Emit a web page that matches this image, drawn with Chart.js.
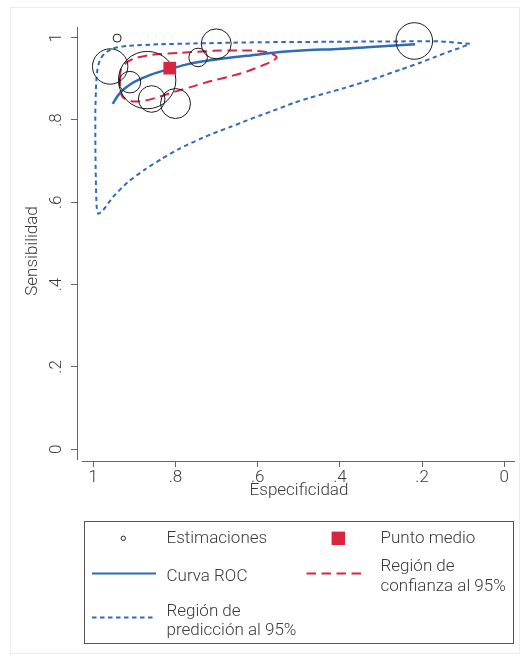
<!DOCTYPE html>
<html>
<head>
<meta charset="utf-8">
<script src="https://cdn.jsdelivr.net/npm/chart.js@4.4.1/dist/chart.umd.min.js"></script>
<style>
  html, body { margin: 0; padding: 0; background: #fff; }
  #wrap { position: relative; width: 528px; height: 661px; }
  canvas { display: block; }
</style>
</head>
<body>
<div id="wrap"><canvas id="sroc" width="528" height="661"></canvas></div>
<script>
// Individual study estimates (specificity, sensitivity) and their relative weights
const studySpec   = [0.942, 0.959, 0.911, 0.869, 0.858, 0.800, 0.745, 0.701, 0.219];
const studySens   = [0.999, 0.930, 0.892, 0.897, 0.851, 0.840, 0.952, 0.985, 0.992];
const studyWeight = [16, 313, 117, 824, 177, 225, 86, 225, 335];

// Summary operating point
const summarySpec = [0.814];
const summarySens = [0.926];

// Summary ROC curve
const rocSpec = [0.953, 0.939, 0.923, 0.899, 0.858, 0.814, 0.777, 0.736, 0.680, 0.627, 0.546, 0.473, 0.416, 0.335, 0.217];
const rocSens = [0.839, 0.861, 0.877, 0.893, 0.911, 0.924, 0.934, 0.942, 0.950, 0.956, 0.965, 0.970, 0.972, 0.977, 0.984];

// 95% confidence region around the summary point
const confSpec = [0.935, 0.933, 0.920, 0.901, 0.862, 0.789, 0.709, 0.643, 0.602, 0.575, 0.560, 0.554, 0.565, 0.590, 0.626, 0.667, 0.709, 0.753, 0.801, 0.838, 0.874, 0.899, 0.918, 0.930, 0.935, 0.935];
const confSens = [0.902, 0.922, 0.939, 0.949, 0.958, 0.963, 0.968, 0.969, 0.968, 0.964, 0.958, 0.952, 0.943, 0.932, 0.918, 0.906, 0.896, 0.883, 0.869, 0.857, 0.847, 0.845, 0.849, 0.858, 0.873, 0.902];

// 95% prediction region
const predSpec = [0.084, 0.157, 0.254, 0.431, 0.594, 0.757, 0.838, 0.918, 0.952, 0.972, 0.984, 0.990, 0.993, 0.995, 0.995, 0.994, 0.992, 0.988, 0.976, 0.952, 0.916, 0.874, 0.833, 0.789, 0.740, 0.709, 0.667, 0.626, 0.594, 0.553, 0.514, 0.473, 0.431, 0.388, 0.346, 0.302, 0.254, 0.205, 0.169, 0.132, 0.103, 0.084];
const predSens = [0.985, 0.991, 0.991, 0.990, 0.989, 0.986, 0.984, 0.980, 0.974, 0.962, 0.946, 0.922, 0.890, 0.824, 0.744, 0.662, 0.591, 0.572, 0.581, 0.613, 0.649, 0.680, 0.706, 0.731, 0.754, 0.767, 0.783, 0.799, 0.811, 0.826, 0.841, 0.854, 0.866, 0.878, 0.891, 0.905, 0.922, 0.939, 0.953, 0.967, 0.977, 0.985];

// Axis ticks
const xTickValues = [1, 0.8, 0.6, 0.4, 0.2, 0];
const xTickLabels = ['1', '.8', '.6', '.4', '.2', '0'];
const yTickValues = [0, 0.2, 0.4, 0.6, 0.8, 1];
const yTickLabels = ['0', '.2', '.4', '.6', '.8', '1'];

const BLUE = '#2f6cb3';
const RED = '#d7263f';
const INK = '#3a3a3a';
const AXIS = '#666666';
const FONT = "Roboto, 'Liberation Sans', Arial, sans-serif";
const FONT_SIZE = 17;
const FONT_WEIGHT = '300';
const fontCss = FONT_WEIGHT + ' ' + FONT_SIZE + 'px ' + FONT;

const pairs = (xs, ys) => xs.map((x, i) => ({ x: x, y: ys[i] }));

// Axis lines, rotated y labels, axis titles and the boxed legend
const decorations = {
  id: 'decorations',
  beforeDraw(chart) {
    const ctx = chart.ctx;
    ctx.save();
    ctx.fillStyle = '#ffffff';
    ctx.fillRect(0, 0, chart.width, chart.height);
    ctx.strokeStyle = '#ececec';
    ctx.lineWidth = 1;
    ctx.strokeRect(10.5, 7.5, 509, 646);
    ctx.restore();
  },
  afterDraw(chart) {
    const ctx = chart.ctx;
    const area = chart.chartArea;
    const ys = chart.scales.y;
    ctx.save();

    // axis lines
    ctx.strokeStyle = AXIS;
    ctx.lineWidth = 1;
    ctx.beginPath();
    ctx.moveTo(area.left + 0.5, area.top);
    ctx.lineTo(area.left + 0.5, area.bottom - 1);
    ctx.moveTo(area.left + 5, area.bottom + 0.5);
    ctx.lineTo(area.right, area.bottom + 0.5);
    ctx.stroke();

    // y tick labels, written vertically
    ctx.fillStyle = INK;
    ctx.font = fontCss;
    ctx.textAlign = 'center';
    ctx.textBaseline = 'middle';
    yTickValues.forEach((v, i) => {
      const py = ys.getPixelForValue(v);
      ctx.save();
      ctx.translate(57, py);
      ctx.rotate(-Math.PI / 2);
      ctx.fillText(yTickLabels[i], 0, 0);
      ctx.restore();
    });

    // axis titles
    ctx.save();
    ctx.translate(33, 251);
    ctx.rotate(-Math.PI / 2);
    ctx.fillText('Sensibilidad', 0, 0);
    ctx.restore();
    ctx.fillText('Especificidad', 299, 491);

    // legend box
    ctx.strokeStyle = '#555555';
    ctx.strokeRect(84.5, 521.5, 429, 122);

    ctx.textAlign = 'left';
    // Estimaciones
    ctx.strokeStyle = '#222222';
    ctx.beginPath();
    ctx.arc(123.3, 538.3, 2.2, 0, Math.PI * 2);
    ctx.stroke();
    ctx.fillText('Estimaciones', 166.5, 538.5);
    // Punto medio
    ctx.fillStyle = RED;
    ctx.fillRect(331.6, 531.6, 13.4, 13.4);
    ctx.fillStyle = INK;
    ctx.fillText('Punto medio', 380.5, 538.5);
    // Curva ROC
    ctx.strokeStyle = BLUE;
    ctx.lineWidth = 2;
    ctx.beginPath();
    ctx.moveTo(92, 573.5);
    ctx.lineTo(156, 573.5);
    ctx.stroke();
    ctx.fillText('Curva ROC', 166.5, 576.5);
    // Region de confianza
    ctx.strokeStyle = RED;
    ctx.setLineDash([9.5, 5.5]);
    ctx.beginPath();
    ctx.moveTo(306.5, 573.5);
    ctx.lineTo(364.5, 573.5);
    ctx.stroke();
    ctx.fillText('Región de', 380.5, 566.5);
    ctx.fillText('confianza al 95%', 380.5, 586.5);
    // Region de prediccion
    ctx.strokeStyle = BLUE;
    ctx.setLineDash([4.5, 3.5]);
    ctx.beginPath();
    ctx.moveTo(92, 617.5);
    ctx.lineTo(156, 617.5);
    ctx.stroke();
    ctx.setLineDash([]);
    ctx.fillText('Región de', 166.5, 611.5);
    ctx.fillText('predicción al 95%', 166.5, 631);

    ctx.restore();
  }
};

new Chart(document.getElementById('sroc'), {
  type: 'scatter',
  data: {
    datasets: [
      {
        label: 'Punto medio',
        data: pairs(summarySpec, summarySens),
        pointStyle: 'rect',
        pointRadius: 9,
        backgroundColor: RED,
        borderColor: RED,
        borderWidth: 0
      },
      {
        type: 'bubble',
        label: 'Estimaciones',
        data: studySpec.map((x, i) => ({ x: x, y: studySens[i], r: Math.sqrt(studyWeight[i]) })),
        backgroundColor: 'rgba(0,0,0,0)',
        borderColor: '#1c1c1c',
        borderWidth: 1,
        clip: false
      },
      {
        label: 'Curva ROC',
        data: pairs(rocSpec, rocSens),
        showLine: true,
        borderColor: BLUE,
        borderWidth: 2.5,
        pointRadius: 0,
        tension: 0.3
      },
      {
        label: 'Región de confianza al 95%',
        data: pairs(confSpec, confSens),
        showLine: true,
        borderColor: RED,
        borderWidth: 2,
        borderDash: [9.5, 5.5],
        pointRadius: 0,
        tension: 0.3
      },
      {
        label: 'Región de predicción al 95%',
        data: pairs(predSpec, predSens),
        showLine: true,
        borderColor: BLUE,
        borderWidth: 2,
        borderDash: [4.5, 3.5],
        pointRadius: 0,
        tension: 0.2,
        clip: false
      }
    ]
  },
  options: {
    responsive: false,
    animation: false,
    devicePixelRatio: 1,
    layout: { autoPadding: false, padding: { left: 0, top: 27, right: 13, bottom: 160 } },
    plugins: { legend: { display: false }, tooltip: { enabled: false } },
    scales: {
      x: {
        type: 'linear',
        reverse: true,
        min: -0.026,
        max: 1.0397,
        afterBuildTicks: s => { s.ticks = xTickValues.map(v => ({ value: v })); },
        afterFit: s => { s.height = 40; },
        ticks: {
          autoSkip: false,
          maxRotation: 0,
          padding: 1,
          color: INK,
          font: { family: FONT, size: FONT_SIZE, weight: FONT_WEIGHT },
          callback: v => xTickLabels[xTickValues.indexOf(v)]
        },
        grid: { drawOnChartArea: false, tickLength: 6, color: AXIS, tickColor: AXIS },
        border: { display: false }
      },
      y: {
        type: 'linear',
        min: -0.0287,
        max: 1.026,
        afterBuildTicks: s => { s.ticks = yTickValues.map(v => ({ value: v })); },
        afterFit: s => { s.width = 77; },
        ticks: { display: false },
        grid: { drawOnChartArea: false, tickLength: 6, color: AXIS, tickColor: AXIS },
        border: { display: false }
      }
    }
  },
  plugins: [decorations]
});
</script>
</body>
</html>
